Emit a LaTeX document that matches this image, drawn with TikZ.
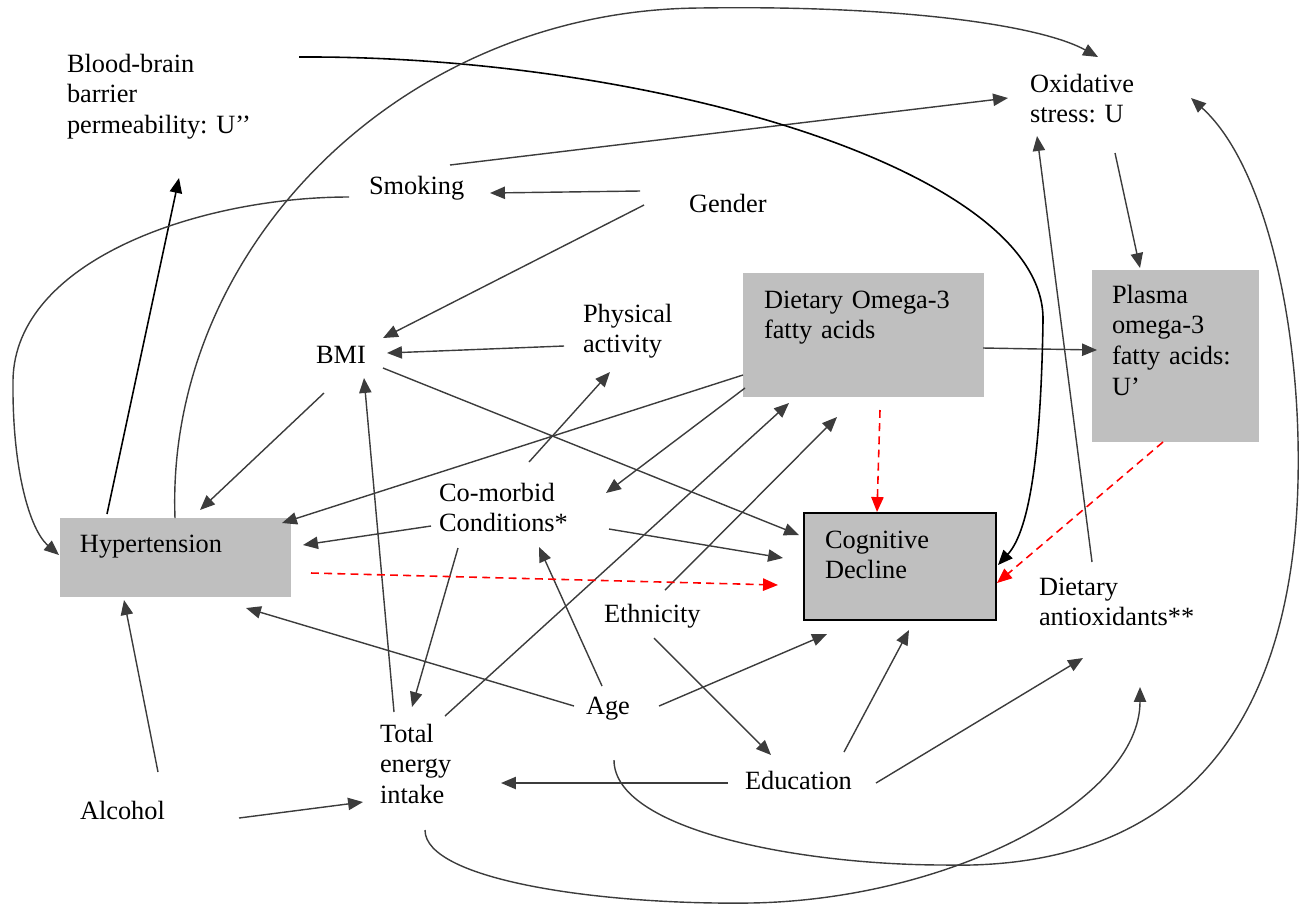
\documentclass[tikz,border=0pt]{standalone}
\usepackage{fontspec}
\setmainfont{Liberation Serif}
\usetikzlibrary{arrows.meta}
\definecolor{boxgray}{RGB}{191,191,191}
\definecolor{linec}{RGB}{60,60,60}
\frenchspacing
\begin{document}
\begin{tikzpicture}[x=0.02cm,y=-0.02cm,
  txt/.style={font=\fontsize{15pt}{17.6pt}\selectfont},
  lbl/.style={txt, inner sep=0pt, outer sep=0pt, text width=4cm, align=left, anchor=base west},
  gbox/.style={txt, fill=boxgray, inner ysep=0pt, outer sep=0pt, anchor=north west, align=left},
  tip/.style={-{Triangle[length=8.5pt,width=7pt]}},
  arr/.style={draw=linec, line width=0.8pt, tip},
  barr/.style={draw=black, line width=0.9pt, tip},
  darr/.style={draw=red, line width=0.9pt, dash pattern=on 4.5pt off 3pt, tip}]
\useasboundingbox (0,0) rectangle (1310,904);

% ---------- boxes ----------
\node[gbox, text width=3.82cm, inner xsep=0.4cm, text height=0.68cm, text depth=0.9cm] (hyp) at (60,518) {Hypertension};
\node[gbox, text width=3.98cm, inner xsep=0.42cm, text height=0.7cm, text depth=1.78cm] (dom) at (743,273) {Dietary Omega-3\\fatty acids};
\node[gbox, text width=2.54cm, inner xsep=0.4cm, text height=0.66cm, text depth=2.78cm] (pla) at (1092,270) {Plasma\\omega-3\\fatty acids:\\U’};
\node[gbox, draw=black, line width=1.2pt, text width=3.0cm, inner xsep=0.42cm, text height=0.7cm, text depth=1.44cm] (cog) at (804,513) {Cognitive\\Decline};

% ---------- text nodes ----------
\node[lbl] (bbb) at (67,72) {Blood-brain\\barrier\\permeability: U’’};
\node[lbl] (smk) at (369,194) {Smoking};
\node[lbl] (gen) at (689,212) {Gender};
\node[lbl] (oxi) at (1030,92) {Oxidative\\stress: U};
\node[lbl] (phy) at (583,322) {Physical\\activity};
\node[lbl] (bmi) at (316,363) {BMI};
\node[lbl] (com) at (439,501) {Co-morbid\\Conditions*};
\node[lbl] (eth) at (604,622) {Ethnicity};
\node[lbl] (age) at (586,714) {Age};
\node[lbl] (tei) at (380,742) {Total\\energy\\intake};
\node[lbl] (alc) at (80,819) {Alcohol};
\node[lbl] (edu) at (745,789) {Education};
\node[lbl] (anx) at (1039,595) {Dietary\\antioxidants**};

% ---------- connector end points ----------
\path (107,514) coordinate (hyp-up)   (179,178) coordinate (bbb-in)
      (450,165) coordinate (smk-out)  (1008,98) coordinate (oxi-left)
      (640,191) coordinate (gen-out1) (490,193) coordinate (smk-in)
      (644,205) coordinate (gen-out2) (383,338) coordinate (bmi-in1)
      (564,346) coordinate (phy-out)  (387,353) coordinate (bmi-in2)
      (324,393) coordinate (bmi-out1) (200,510) coordinate (hyp-in1)
      (394,712) coordinate (tei-out1) (364,378) coordinate (bmi-in3)
      (383,368) coordinate (bmi-out2) (799,535) coordinate (cog-in1)
      (529,462) coordinate (com-out1) (610,372) coordinate (phy-in)
      (743,375) coordinate (dom-out1) (282,523) coordinate (hyp-in2)
      (745,388) coordinate (dom-out2) (606,493) coordinate (com-in1)
      (983,348) coordinate (dom-out3) (1097,350) coordinate (pla-in1)
      (1115,153) coordinate (oxi-out) (1140,268) coordinate (pla-in2)
      (1092,562) coordinate (anx-out) (1037,136) coordinate (oxi-in2)
      (431,526) coordinate (com-out2) (303,545) coordinate (hyp-in3)
      (609,529) coordinate (com-out3) (783,558) coordinate (cog-in2)
      (458,548) coordinate (com-out4) (412,707) coordinate (tei-in1)
      (665,590) coordinate (eth-out1) (837,417) coordinate (dom-in1)
      (445,716) coordinate (tei-out2) (789,403) coordinate (dom-in2)
      (574,706) coordinate (age-out1) (246,608) coordinate (hyp-in4)
      (602,686) coordinate (age-out2) (539,547) coordinate (com-in2)
      (659,706) coordinate (age-out3) (827,634) coordinate (cog-in3)
      (654,638) coordinate (eth-out2) (771,755) coordinate (edu-in)
      (844,752) coordinate (edu-out1) (909,630) coordinate (cog-in4)
      (876,783) coordinate (edu-out2) (1083,658) coordinate (anx-in1)
      (728,783) coordinate (edu-out3) (501,783) coordinate (tei-in2)
      (239,818) coordinate (alc-out1) (363,802) coordinate (tei-in3)
      (158,772) coordinate (alc-out2) (124,600) coordinate (hyp-in5)
      (311,573) coordinate (hyp-out)  (778,585) coordinate (cog-in5)
      (880,410) coordinate (dom-out4) (877,512) coordinate (cog-in6)
      (1163,442) coordinate (pla-out) (997,583) coordinate (cog-in7)
      (299,57) coordinate (bbb-out)   (998,565) coordinate (cog-in8)
      (175,518) coordinate (hyp-top)  (1098,57) coordinate (oxi-top)
      (349,197) coordinate (smk-out2) (59,555) coordinate (hyp-left)
      (614,760) coordinate (age-bot)  (1191,98) coordinate (oxi-right)
      (425,830) coordinate (tei-bot)  (1140,687) coordinate (anx-in2);

% ---------- straight connectors ----------
\draw[barr] (hyp-up) -- (bbb-in);
\draw[arr] (smk-out) -- (oxi-left);
\draw[arr] (gen-out1) -- (smk-in);
\draw[arr] (gen-out2) -- (bmi-in1);
\draw[arr] (phy-out) -- (bmi-in2);
\draw[arr] (bmi-out1) -- (hyp-in1);
\draw[arr] (tei-out1) -- (bmi-in3);
\draw[arr] (bmi-out2) -- (cog-in1);
\draw[arr] (com-out1) -- (phy-in);
\draw[arr] (dom-out1) -- (hyp-in2);
\draw[arr] (dom-out2) -- (com-in1);
\draw[arr] (dom-out3) -- (pla-in1);
\draw[arr] (oxi-out) -- (pla-in2);
\draw[arr] (anx-out) -- (oxi-in2);
\draw[arr] (com-out2) -- (hyp-in3);
\draw[arr] (com-out3) -- (cog-in2);
\draw[arr] (com-out4) -- (tei-in1);
\draw[arr] (eth-out1) -- (dom-in1);
\draw[arr] (tei-out2) -- (dom-in2);
\draw[arr] (age-out1) -- (hyp-in4);
\draw[arr] (age-out2) -- (com-in2);
\draw[arr] (age-out3) -- (cog-in3);
\draw[arr] (eth-out2) -- (edu-in);
\draw[arr] (edu-out1) -- (cog-in4);
\draw[arr] (edu-out2) -- (anx-in1);
\draw[arr] (edu-out3) -- (tei-in2);
\draw[arr] (alc-out1) -- (tei-in3);
\draw[arr] (alc-out2) -- (hyp-in5);

% ---------- dashed red connectors ----------
\draw[darr] (hyp-out) -- (cog-in5);
\draw[darr] (dom-out4) -- (cog-in6);
\draw[darr] (pla-out) -- (cog-in7);

% ---------- curved connectors ----------
\draw[barr] (bbb-out) .. controls (650,55) and (1045,170) .. (1043,320)
                      .. controls (1041,450) and (1030,530) .. (cog-in8);
\draw[arr] (hyp-top) .. controls (165,250) and (400,10) .. (700,8)
                     .. controls (900,5) and (1040,25) .. (oxi-top);
\draw[arr] (smk-out2) .. controls (200,197) and (15,260) .. (13,380)
                      .. controls (12,470) and (30,530) .. (hyp-left);
\draw[arr] (age-bot) .. controls (614,830) and (800,865) .. (945,865)
                     .. controls (1150,870) and (1305,760) .. (1298,440)
                     .. controls (1295,300) and (1260,160) .. (oxi-right);
\draw[arr] (tei-bot) .. controls (425,880) and (600,905) .. (750,903)
                     .. controls (950,900) and (1140,800) .. (anx-in2);
\end{tikzpicture}
\end{document}
